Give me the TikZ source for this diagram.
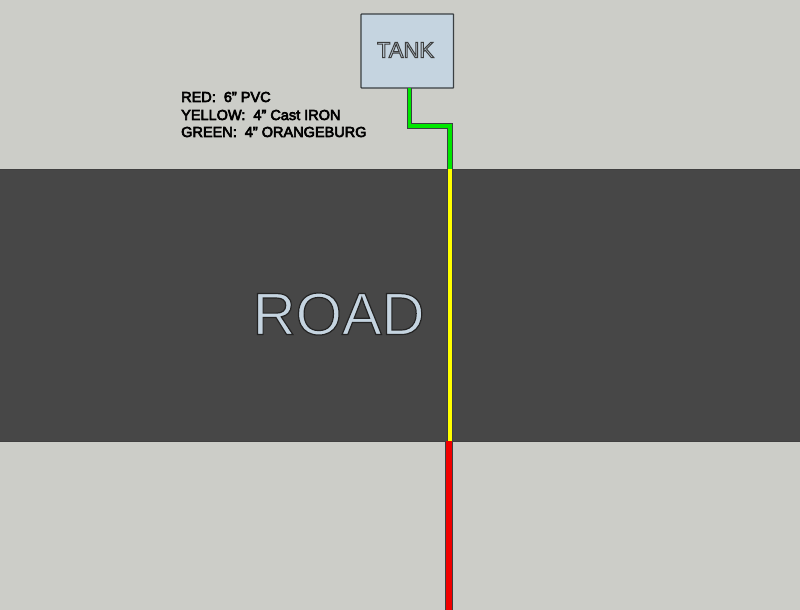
\documentclass[tikz,border=0pt]{standalone}
\usepackage{fontspec}
\setmainfont{Liberation Sans}
\definecolor{ground}{HTML}{CCCDC8}
\definecolor{roadc}{HTML}{474747}
\definecolor{tankc}{HTML}{C5D4E0}
\definecolor{edgec}{HTML}{3A3F42}
\definecolor{pipeg}{HTML}{00E800}
\definecolor{pipey}{HTML}{FFFF00}
\definecolor{piper}{HTML}{F00000}
\newcommand{\outlined}[3]{\special{pdf:code q 2 Tr #1 w #2 G}#3\special{pdf:code Q}}
\tikzset{
  x=1pt,y=-1pt,
  pipeout/.style={line width=5.6pt,draw=edgec,line cap=butt,line join=miter},
  pipein/.style={line width=3.8pt,line cap=butt,line join=miter},
  legend/.style={anchor=west,inner sep=0pt,font=\fontsize{14.5}{16}\selectfont,text=black},
}
\begin{document}
\begin{tikzpicture}
\useasboundingbox (0,0) rectangle (800,610);
\fill[ground] (0,0) rectangle (800,610);
\draw[fill=roadc,draw=black!75,line width=.8pt] (-2,169) rectangle (802,441);
\node[draw=edgec,fill=tankc,line width=1.2pt,rounded corners=.6pt,minimum width=92.5pt,minimum height=74pt,inner sep=0pt,
  font=\fontsize{22}{24}\selectfont,text=tankc] (tank) at (407.3,51) {\raisebox{2pt}{\hspace*{-3.5pt}\outlined{1}{0.2 0.22 0.24}{TANK}}};
\coordinate (bend1) at (409.5,126);
\coordinate (bend2) at (449.8,126);
\coordinate (roadtop) at (449.8,169);
\coordinate (roadbot) at (449.8,441);
\coordinate (redtop) at (449,441);
\coordinate (bottom) at (449,612);
\draw[pipeout] (409.5,88) -- (bend1) -- (bend2) -- (roadtop);
\draw[pipein,draw=pipeg] (409.5,88) -- (bend1) -- (bend2) -- (roadtop);
\draw[pipeout] (roadtop) -- (roadbot);
\draw[pipein,draw=pipey] (roadtop) -- (roadbot);
\draw[line width=8pt,draw=edgec] (redtop) -- (bottom);
\draw[line width=6pt,draw=piper] (redtop) -- (bottom);
\node[anchor=west,inner sep=0pt,font=\fontsize{59.5}{60}\selectfont,text=tankc] (road) at (252.5,314)
  {\outlined{1.2}{0.1 0.12 0.14}{ROAD}};
\node[legend] (l1) at (181,97) {\outlined{0.6}{0 0 0}{RED:\ \ 6\symbol{34} PVC}};
\node[legend] (l2) at (181,115) {\outlined{0.6}{0 0 0}{YELLOW:\ \ 4\symbol{34} Cast IRON}};
\node[legend] (l3) at (181,132) {\outlined{0.6}{0 0 0}{GREEN:\ \ 4\symbol{34} ORANGEBURG}};
\end{tikzpicture}
\end{document}
